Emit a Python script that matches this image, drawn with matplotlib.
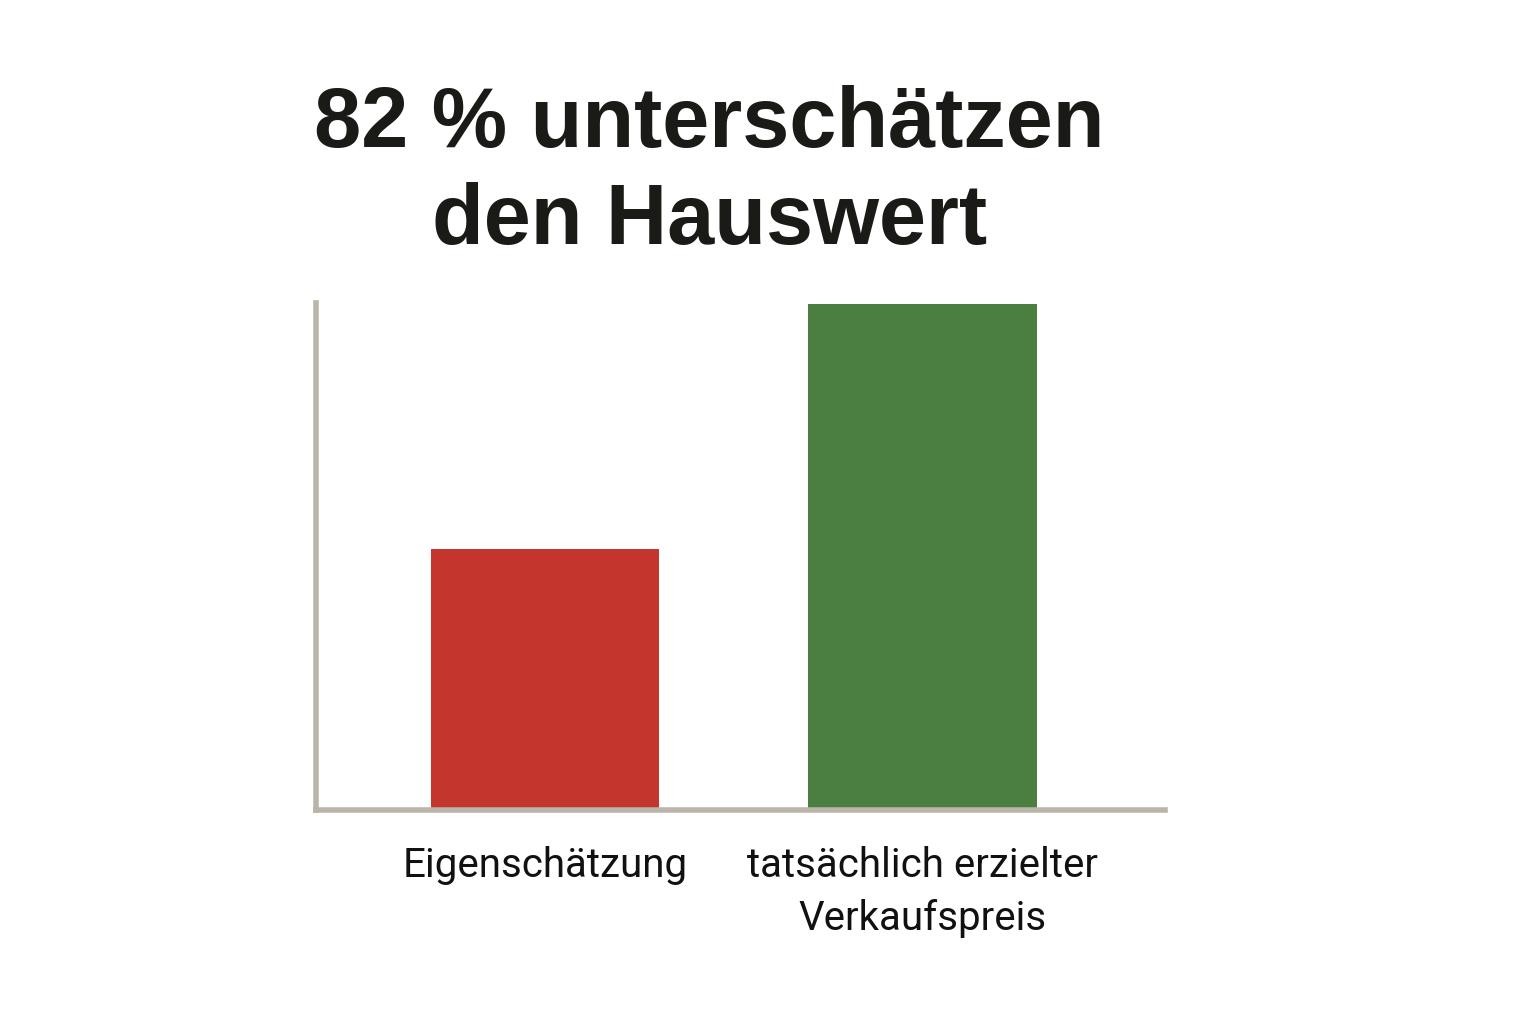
import matplotlib
matplotlib.use("Agg")
import matplotlib.pyplot as plt

categories = ["Eigenschätzung", "tatsächlich erzielter\nVerkaufspreis"]
values = [51.6, 100.0]
colors = ["#c3352d", "#4a7f40"]
title = "82 % unterschätzen\nden Hauswert"

fig = plt.figure(figsize=(15.36, 10.24), dpi=100)
ax = fig.add_axes([0.2057, 0.209, 0.5528, 0.495])

x = range(len(categories))
ax.bar(x, values, width=0.605, color=colors, zorder=2)
ax.set_xlim(-0.607, 1.642)
ax.set_ylim(0, 100.2)

for s in ["top", "right"]:
    ax.spines[s].set_visible(False)
for s in ["left", "bottom"]:
    ax.spines[s].set_color("#bbb4a8")
    ax.spines[s].set_linewidth(4)
ax.set_yticks([])
ax.set_xticks(list(x))
ax.set_xticklabels(categories, fontsize=29, family="Roboto", color="#111111",
                   linespacing=1.45)
ax.tick_params(axis="x", length=0, pad=26)

fig.text(0.462, 0.917, title, ha="center", va="top", fontsize=61,
         fontweight="bold", family="Liberation Sans", color="#1a1a17",
         linespacing=1.27)

fig.savefig("out.png", dpi=100, facecolor="white")
